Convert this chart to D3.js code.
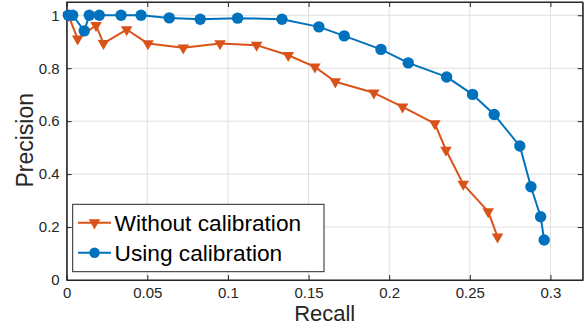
<!DOCTYPE html>
<html>
<head>
<meta charset="utf-8">
<script src="https://cdn.jsdelivr.net/npm/d3@7"></script>
<style>
  html, body { margin: 0; padding: 0; background: #fff; }
  svg { display: block; font-family: "Liberation Sans", Arial, sans-serif; }
</style>
</head>
<body>
<svg id="chart" width="586" height="328"></svg>
<script>
// ---- Data ----
const seriesNames = ["Without calibration", "Using calibration"];
const recallWithout = [0.001, 0.0068, 0.0182, 0.0228, 0.0372, 0.0504, 0.0723, 0.0951, 0.1178, 0.1374, 0.1539, 0.1666, 0.1905, 0.2083, 0.2283, 0.2352, 0.2459, 0.2614, 0.2672];
const precisionWithout = [1.0, 0.911, 0.962, 0.894, 0.946, 0.893, 0.877, 0.893, 0.887, 0.849, 0.805, 0.749, 0.707, 0.654, 0.591, 0.491, 0.362, 0.258, 0.163];
const recallUsing = [0.001, 0.0037, 0.0109, 0.014, 0.0202, 0.0337, 0.0461, 0.0636, 0.0828, 0.106, 0.1335, 0.1564, 0.1721, 0.1949, 0.2118, 0.2356, 0.2517, 0.2651, 0.2810, 0.2879, 0.2939, 0.2961];
const precisionUsing = [1.0, 1.0, 0.941, 1.0, 1.0, 1.0, 1.0, 0.990, 0.985, 0.989, 0.985, 0.956, 0.922, 0.871, 0.820, 0.767, 0.701, 0.625, 0.506, 0.352, 0.239, 0.151];
const xTicks = [0, 0.05, 0.1, 0.15, 0.2, 0.25, 0.3];
const xTickLabels = ["0", "0.05", "0.1", "0.15", "0.2", "0.25", "0.3"];
const yTicks = [0, 0.2, 0.4, 0.6, 0.8, 1];
const yTickLabels = ["0", "0.2", "0.4", "0.6", "0.8", "1"];
const xLabel = "Recall";
const yLabel = "Precision";

// ---- Layout ----
const svg = d3.select("#chart");
const L = 66.7, R = 582.7, T = 2, B = 280;
const x = d3.scaleLinear().domain([0, 0.32]).range([L, R]);
const y = d3.scaleLinear().domain([0, 1.05]).range([B, T]);
const axisColor = "#262626";
const gridColor = "#dfdfdf";
const orange = "#D95319", blue = "#0072BD";

// grid
const grid = svg.append("g");
grid.selectAll(".gx").data(xTicks).join("line")
  .attr("x1", d => x(d)).attr("x2", d => x(d)).attr("y1", T).attr("y2", B)
  .attr("stroke", gridColor).attr("stroke-width", 1);
grid.selectAll(".gy").data(yTicks).join("line")
  .attr("y1", d => y(d)).attr("y2", d => y(d)).attr("x1", L).attr("x2", R)
  .attr("stroke", gridColor).attr("stroke-width", 1);

// axes
const fmtX = (d, i) => xTickLabels[i];
const fmtY = (d, i) => yTickLabels[i];
const gx = svg.append("g").attr("transform", `translate(0,${B})`)
  .call(d3.axisBottom(x).tickValues(xTicks).tickFormat(fmtX).tickSizeInner(-5).tickSizeOuter(0).tickPadding(7));
const gy = svg.append("g").attr("transform", `translate(${L},0)`)
  .call(d3.axisLeft(y).tickValues(yTicks).tickFormat(fmtY).tickSizeInner(-5).tickSizeOuter(0).tickPadding(7));
const gxt = svg.append("g").attr("transform", `translate(0,${T})`)
  .call(d3.axisTop(x).tickValues(xTicks).tickFormat("").tickSizeInner(-5).tickSizeOuter(0));
const gyr = svg.append("g").attr("transform", `translate(${R},0)`)
  .call(d3.axisRight(y).tickValues(yTicks).tickFormat("").tickSizeInner(-5).tickSizeOuter(0));
[gx, gy, gxt, gyr].forEach(g => {
  g.selectAll("path").attr("stroke", axisColor).attr("stroke-width", 1);
  g.selectAll("line").attr("stroke", axisColor).attr("stroke-width", 1);
  g.selectAll("text").attr("fill", axisColor).style("font-size", "15px")
    .style("font-family", "'Liberation Sans', Arial, sans-serif");
});
// box frame
svg.append("rect").attr("x", L).attr("y", T).attr("width", R - L).attr("height", B - T)
  .attr("fill", "none").attr("stroke", axisColor).attr("stroke-width", 1);

// axis labels
svg.append("text").attr("x", (L + R) / 2).attr("y", 321).attr("text-anchor", "middle")
  .attr("fill", axisColor).style("font-size", "22px").text(xLabel);
svg.append("text").attr("transform", `translate(32.5,140.3) rotate(-90)`)
  .attr("text-anchor", "middle").attr("fill", axisColor).style("font-size", "23px").text(yLabel);

// series
const line = d3.line().x(d => x(d[0])).y(d => y(d[1]));
const dataWithout = recallWithout.map((r, i) => [r, precisionWithout[i]]);
const dataUsing = recallUsing.map((r, i) => [r, precisionUsing[i]]);
const tri = d3.symbol().type(d3.symbolTriangle).size(58);

const plot = svg.append("g");
plot.append("path").datum(dataWithout).attr("d", line)
  .attr("fill", "none").attr("stroke", orange).attr("stroke-width", 2).attr("stroke-linejoin", "round");
plot.selectAll(".tw").data(dataWithout).join("path")
  .attr("d", tri).attr("transform", d => `translate(${x(d[0])},${y(d[1])}) rotate(180)`)
  .attr("fill", orange);

plot.append("path").datum(dataUsing).attr("d", line)
  .attr("fill", "none").attr("stroke", blue).attr("stroke-width", 2).attr("stroke-linejoin", "round");
plot.selectAll(".cu").data(dataUsing).join("circle")
  .attr("cx", d => x(d[0])).attr("cy", d => y(d[1])).attr("r", 5.7)
  .attr("fill", blue);

// legend
const lg = svg.append("g");
lg.append("rect").attr("x", 72.7).attr("y", 204.3).attr("width", 251.3).attr("height", 67.4)
  .attr("fill", "#fff").attr("stroke", axisColor).attr("stroke-width", 1);
const legendItems = [
  { name: seriesNames[0], color: orange, type: "tri", yy: 222.7 },
  { name: seriesNames[1], color: blue, type: "circle", yy: 252.7 }
];
legendItems.forEach(it => {
  lg.append("line").attr("x1", 78).attr("x2", 111).attr("y1", it.yy).attr("y2", it.yy)
    .attr("stroke", it.color).attr("stroke-width", 2);
  if (it.type === "tri") {
    lg.append("path").attr("d", tri).attr("transform", `translate(94.5,${it.yy}) rotate(180)`).attr("fill", it.color);
  } else {
    lg.append("circle").attr("cx", 94.5).attr("cy", it.yy).attr("r", 5.2).attr("fill", it.color);
  }
  lg.append("text").attr("x", 114.5).attr("y", it.yy).attr("dy", "0.36em")
    .attr("fill", "#000").style("font-size", "22.7px").text(it.name);
});
</script>
</body>
</html>
